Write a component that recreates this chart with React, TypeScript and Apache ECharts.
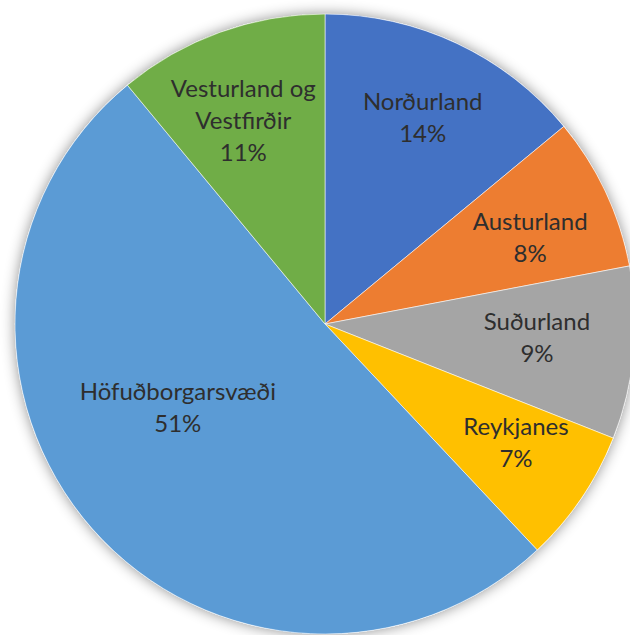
import React, { useEffect, useRef } from "react";
import * as echarts from "echarts";

const categories = [
  "Norðurland",
  "Austurland",
  "Suðurland",
  "Reykjanes",
  "Höfuðborgarsvæði",
  "Vesturland og\nVestfirðir",
];
const values = [14, 8, 9, 7, 51, 11];
const colors = ["#4472C4", "#ED7D31", "#A5A5A5", "#FFC000", "#5B9BD5", "#70AD47"];

// label placement: fraction of radius and angular offset (deg) from slice mid-angle
const labelFrac = [0.74, 0.72, 0.685, 0.724, 0.545, 0.71];
const labelAngleOffset = [0, 2, -1.9, -2.5, 12, -2];

const CX = 325;
const CY = 324;
const R = 310;

export default function App() {
  const ref = useRef<HTMLDivElement>(null);
  useEffect(() => {
    document.body.style.margin = "0";
    const chart = echarts.init(ref.current!, undefined, { renderer: "svg" });
    const total = values.reduce((a, b) => a + b, 0);
    const starts: number[] = [];
    let acc = 0;
    values.forEach((v) => {
      starts.push(acc);
      acc += v;
    });
    chart.setOption({
      animation: false,
      backgroundColor: "#ffffff",
      series: [
        {
          type: "pie",
          silent: true,
          center: [CX, CY],
          radius: R,
          z: 1,
          label: { show: false },
          labelLine: { show: false },
          itemStyle: {
            color: "#ffffff",
            shadowBlur: 14,
            shadowColor: "rgba(0,0,0,0.45)",
          },
          data: [{ value: 1, name: "" }],
        },
        {
          type: "pie",
          center: [CX, CY],
          radius: R,
          startAngle: 90,
          clockwise: true,
          z: 2,
          itemStyle: {
            borderColor: "rgba(255,255,255,0.55)",
            borderWidth: 1,
          },
          label: {
            show: true,
            position: "inside",
            formatter: (p: any) => `${p.name}\n${p.value}%`,
            fontFamily: "Lato",
            fontSize: 24,
            lineHeight: 32,
            color: "#2e2e2e",
          },
          labelLine: { show: false },
          labelLayout: (params: any) => {
            const i = params.dataIndex;
            const mid =
              ((starts[i] + values[i] / 2) / total) * Math.PI * 2 +
              (labelAngleOffset[i] * Math.PI) / 180;
            const r = labelFrac[i] * R;
            return {
              x: CX + r * Math.sin(mid),
              y: CY - r * Math.cos(mid),
              align: "center",
              verticalAlign: "middle",
            };
          },
          data: categories.map((c, i) => ({
            name: c,
            value: values[i],
            itemStyle: { color: colors[i] },
          })),
        },
      ],
    });
    return () => chart.dispose();
  }, []);
  return <div ref={ref} style={{ width: 630, height: 635 }} />;
}
